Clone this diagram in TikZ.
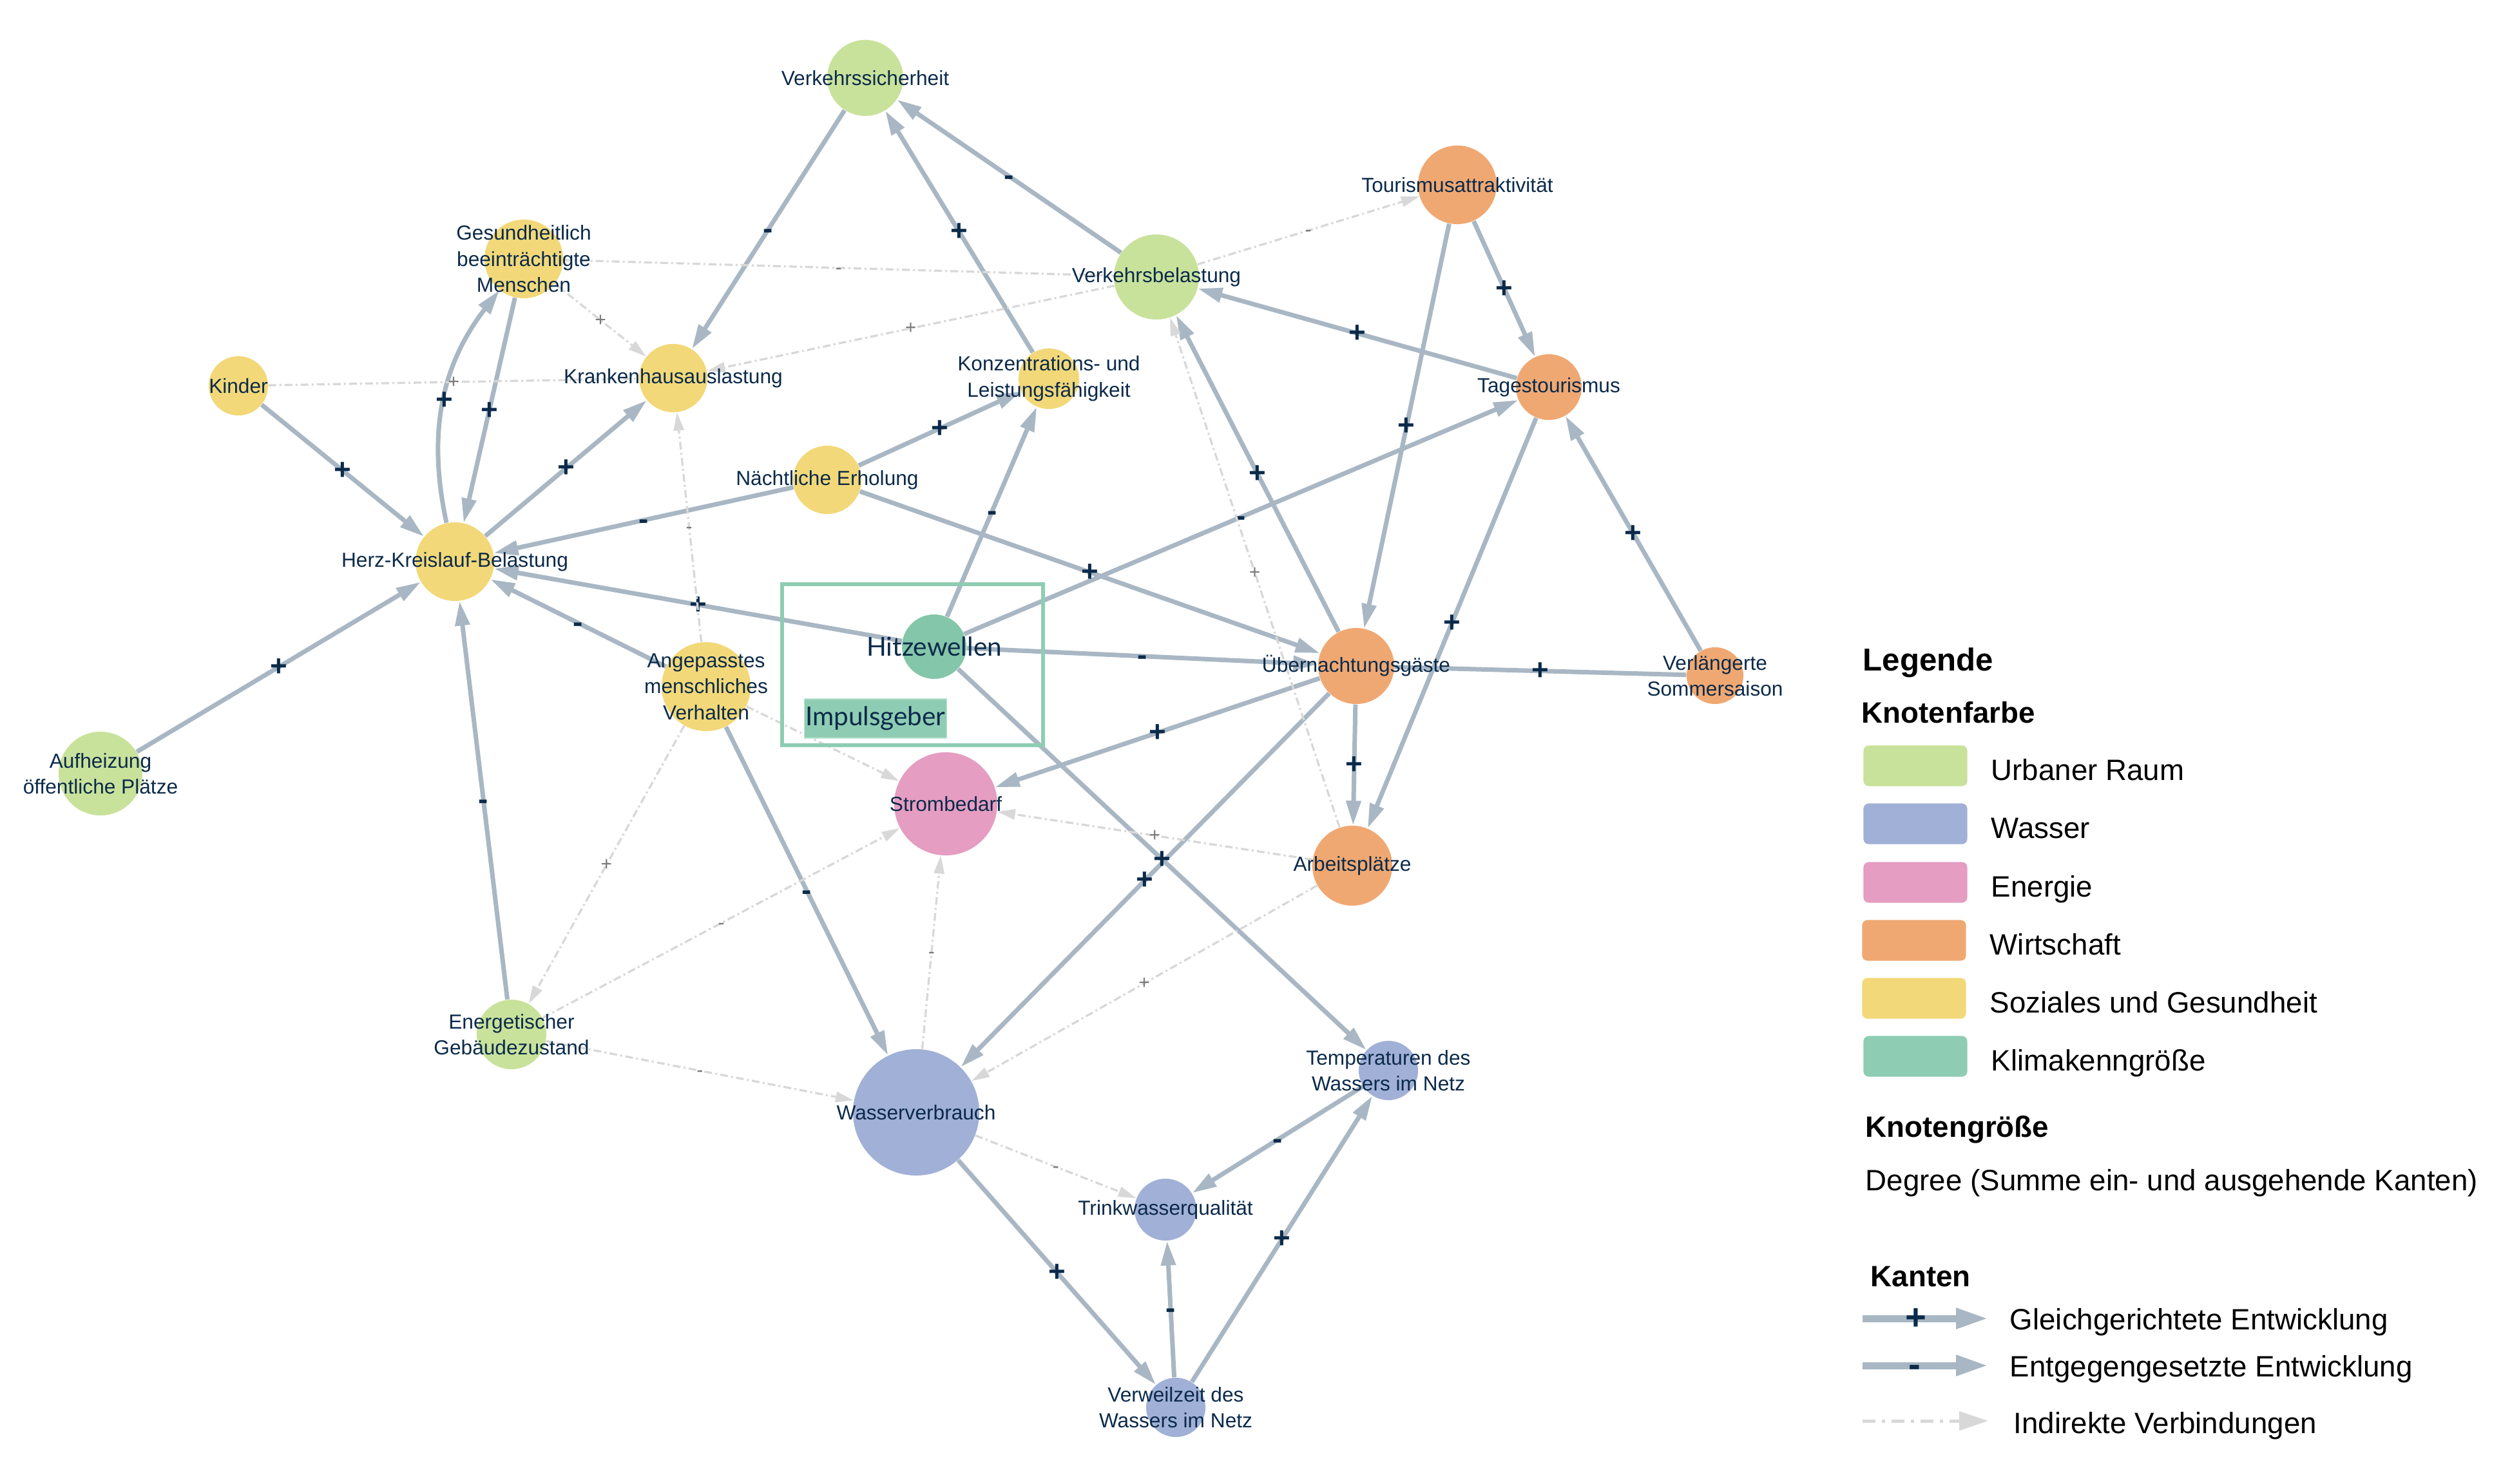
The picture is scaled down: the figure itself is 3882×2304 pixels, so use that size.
\documentclass[tikz,border=0pt]{standalone}
\usepackage{fontspec}
\setmainfont{Liberation Sans}
\newfontfamily\impulsfont{Lato}
\usepackage{tikz}
\usetikzlibrary{arrows.meta}

\definecolor{urban}{HTML}{C9E29B}
\definecolor{wasser}{HTML}{A1B0D6}
\definecolor{energie}{HTML}{E59DC1}
\definecolor{wirtschaft}{HTML}{F0A872}
\definecolor{sozial}{HTML}{F2D878}
\definecolor{klima}{HTML}{84C6A9}
\definecolor{klimabox}{HTML}{8ECDB3}
\definecolor{edgegray}{HTML}{A8B7C3}
\definecolor{indgray}{HTML}{D8D8D8}
\definecolor{navy}{HTML}{0B2A4A}
\definecolor{signgray}{HTML}{7A7A7A}

\pgfdeclarelayer{edges}
\pgfsetlayers{edges,main}

\begin{document}
\begin{tikzpicture}[x=0.01cm, y=-0.01cm]

    %--- Styles
    \tikzstyle{var node}=[circle, inner sep=0pt, draw=none]
    \tikzstyle{label text}=[font=\fontsize{9}{11.5}\selectfont, text=navy, align=center]
    \tikzstyle{direct edge}=[draw=edgegray, line width=0.07cm, -{Triangle[length=0.38cm,width=0.22cm]}]
    \tikzstyle{indirect edge}=[draw=indgray, line width=0.033cm, dash pattern=on 0.12cm off 0.05cm on 0.03cm off 0.05cm, -{Triangle[length=0.28cm,width=0.16cm]}]
    \tikzstyle{sign label}=[font=\fontsize{13}{13}\selectfont\bfseries, text=navy, inner sep=0pt, anchor=base, yshift=-4pt]
    \tikzstyle{weak sign}=[font=\fontsize{8.5}{8.5}\selectfont, text=signgray, inner sep=0pt, anchor=base, yshift=-2.6pt]
    \tikzstyle{swatch}=[rectangle, rounded corners=0.08cm, minimum width=1.61cm, minimum height=0.63cm, inner sep=0pt]
    \tikzstyle{legend text}=[anchor=base west, font=\fontsize{13}{13}\selectfont, inner sep=0pt]
    \tikzstyle{legend head}=[anchor=base west, font=\fontsize{13}{13}\selectfont\bfseries, inner sep=0pt]

    \useasboundingbox (0,0) rectangle (3882,2304);

    %--- Urbaner Raum
    \node[var node, fill=urban, minimum size=1.18cm, label={[label text]center:Verkehrssicherheit}] (vsich) at (1343,121) {};
    \node[var node, fill=urban, minimum size=1.32cm, label={[label text]center:Verkehrsbelastung}] (vbel) at (1795,430) {};
    \node[var node, fill=urban, minimum size=1.30cm, label={[label text]center:{Aufheizung\\öffentliche Plätze}}] (aufh) at (156,1201) {};
    \node[var node, fill=urban, minimum size=1.08cm, label={[label text]center:{Energetischer\\Gebäudezustand}}] (energ) at (794,1606) {};

    %--- Wirtschaft
    \node[var node, fill=wirtschaft, minimum size=1.22cm, label={[label text]center:Tourismusattraktivität}] (tour) at (2262,287) {};
    \node[var node, fill=wirtschaft, minimum size=1.02cm, label={[label text]center:Tagestourismus}] (tages) at (2404,601) {};
    \node[var node, fill=wirtschaft, minimum size=1.18cm, label={[label text]center:Übernachtungsgäste}] (uebern) at (2105,1034) {};
    \node[var node, fill=wirtschaft, minimum size=1.24cm, label={[label text]center:Arbeitsplätze}] (arbeit) at (2099,1344) {};
    \node[var node, fill=wirtschaft, minimum size=0.88cm, label={[label text]center:{Verlängerte\\Sommersaison}}] (saison) at (2662,1049) {};

    %--- Soziales und Gesundheit
    \node[var node, fill=sozial, minimum size=0.94cm, label={[label text]center:{Konzentrations- und\\Leistungsfähigkeit}}] (konz) at (1628,588) {};
    \node[var node, fill=sozial, minimum size=1.06cm, label={[label text]center:Nächtliche Erholung}] (erhol) at (1284,745) {};
    \node[var node, fill=sozial, minimum size=1.22cm, label={[label text]center:Herz-Kreislauf-Belastung}] (herz) at (706,872) {};
    \node[var node, fill=sozial, minimum size=0.92cm, label={[label text]center:Kinder}] (kinder) at (370,599) {};
    \node[var node, fill=sozial, minimum size=1.22cm, label={[label text]center:{Gesundheitlich\\beeinträchtigte\\Menschen}}] (gesund) at (813,402) {};
    \node[var node, fill=sozial, minimum size=1.06cm, label={[label text]center:Krankenhausauslastung}] (kranken) at (1045,587) {};
    \node[var node, fill=sozial, minimum size=1.38cm, label={[label text]center:{Angepasstes\\menschliches\\Verhalten}}] (verhalt) at (1096,1066) {};

    %--- Energie
    \node[var node, fill=energie, minimum size=1.60cm, label={[label text]center:Strombedarf}] (strom) at (1468,1248) {};

    %--- Wasser
    \node[var node, fill=wasser, minimum size=0.92cm, label={[label text]center:{Temperaturen des\\Wassers im Netz}}] (wtemp) at (2155,1662) {};
    \node[var node, fill=wasser, minimum size=1.96cm, label={[label text]center:Wasserverbrauch}] (wverb) at (1422,1727) {};
    \node[var node, fill=wasser, minimum size=0.96cm, label={[label text]center:Trinkwasserqualität}] (trink) at (1809,1878) {};
    \node[var node, fill=wasser, minimum size=0.92cm, label={[label text]center:{Verweilzeit des\\Wassers im Netz}}] (verweil) at (1825,2185) {};

    %--- Klimakenngroesse (Impulsgeber)
    \node[var node, fill=klima, minimum size=1.00cm, label={[label text, font=\impulsfont\fontsize{11.5}{12}\selectfont]center:Hitzewellen}] (hitze) at (1450,1004) {};
    \draw[klimabox, line width=0.06cm] (1214,907) rectangle (1619,1157);
    \node[fill=klimabox, draw=klimabox!55!white, line width=0.4pt, inner xsep=0.5pt, minimum height=0.49cm, text=navy, font=\impulsfont\fontsize{11.5}{12}\selectfont] (impuls) at (1359,1115.5) {Impulsgeber};

    \begin{pgfonlayer}{edges}
    %--- Direct edges
    \draw[direct edge] (vsich) -- node[sign label] {-} (kranken);
    \draw[direct edge] (konz) -- node[sign label] {+} (vsich);
    \draw[direct edge] (vbel) -- node[sign label] {-} (vsich);
    \draw[direct edge] (tages) -- node[sign label] {+} (vbel);
    \draw[direct edge] (tour) -- node[sign label] {+} (tages);
    \draw[direct edge] (tour) -- node[sign label] {+} (uebern);
    \draw[direct edge] (uebern) -- node[sign label] {+} (vbel);
    \draw[direct edge] (hitze) -- node[sign label] {-} (tages);
    \draw[direct edge] (erhol) -- node[sign label] {+} (uebern);
    \draw[direct edge] (tages) -- node[sign label] {+} (arbeit);
    \draw[direct edge] (saison) -- node[sign label] {+} (tages);
    \draw[direct edge, -] (saison) -- node[sign label] {+} (uebern);
    \draw[direct edge] (uebern) -- node[sign label] {+} (strom);
    \draw[direct edge] (uebern) -- node[sign label] {+} (wverb);
    \draw[direct edge] (hitze) -- node[sign label] {+} (wtemp);
    \draw[direct edge] (uebern) -- node[sign label] {+} (arbeit);
    \draw[direct edge] (hitze) -- node[sign label] {+} (herz);
    \draw[direct edge] (hitze) -- node[sign label] {-} (konz);
    \draw[direct edge] (hitze) -- node[sign label] {-} (uebern);
    \draw[direct edge] (erhol) -- node[sign label] {-} (herz);
    \draw[direct edge] (erhol) -- node[sign label] {+} (konz);
    \draw[direct edge] (herz) -- node[sign label] {+} (kranken);
    \draw[direct edge] (herz) to[bend left=25] node[sign label] {+} (gesund);
    \draw[direct edge] (gesund) -- node[sign label] {+} (herz);
    \draw[direct edge] (kinder) -- node[sign label] {+} (herz);
    \draw[direct edge] (aufh) -- node[sign label] {+} (herz);
    \draw[direct edge] (energ) -- node[sign label] {-} (herz);
    \draw[direct edge] (verhalt) -- node[sign label] {-} (herz);
    \draw[direct edge] (verhalt) -- node[sign label] {-} (wverb);
    \draw[direct edge] (wverb) -- node[sign label] {+} (verweil);
    \draw[direct edge] (verweil) -- node[sign label] {-} (trink);
    \draw[direct edge] (verweil) -- node[sign label] {+} (wtemp);
    \draw[direct edge] (wtemp) -- node[sign label] {-} (trink);

    %--- Indirect edges
    \draw[indirect edge, -] (gesund) -- node[weak sign] {-} (vbel);
    \draw[indirect edge] (gesund) -- node[weak sign] {+} (kranken);
    \draw[indirect edge, -] (kinder) -- node[weak sign] {+} (kranken);
    \draw[indirect edge] (vbel) -- node[weak sign] {+} (kranken);
    \draw[indirect edge] (verhalt) -- node[weak sign] {-} (kranken);
    \draw[indirect edge] (vbel) -- node[weak sign] {-} (tour);
    \draw[indirect edge] (arbeit) -- node[weak sign] {+} (vbel);
    \draw[indirect edge] (verhalt) -- (strom);
    \draw[indirect edge] (energ) -- node[weak sign] {-} (strom);
    \draw[indirect edge] (verhalt) -- node[weak sign] {+} (energ);
    \draw[indirect edge] (energ) -- node[weak sign] {-} (wverb);
    \draw[indirect edge] (wverb) -- node[weak sign] {-} (strom);
    \draw[indirect edge] (arbeit) -- node[weak sign] {+} (strom);
    \draw[indirect edge] (arbeit) -- node[weak sign] {+} (wverb);
    \draw[indirect edge] (wverb) -- node[weak sign] {-} (trink);
    \end{pgfonlayer}

    %--- Legende
    \node[legend head, font=\fontsize{14}{14}\selectfont\bfseries] (leghead) at (2891,1041) {Legende};
    \node[legend head] (legfarbe) at (2889,1122) {Knotenfarbe};

    \node[swatch, fill=urban] (sw1) at (2973,1189) {};
    \node[swatch, fill=wasser] (sw2) at (2973,1279) {};
    \node[swatch, fill=energie] (sw3) at (2973,1370) {};
    \node[swatch, fill=wirtschaft] (sw4) at (2971,1460) {};
    \node[swatch, fill=sozial] (sw5) at (2971,1550) {};
    \node[swatch, fill=klimabox] (sw6) at (2973,1640) {};

    \node[legend text] (lt1) at (3090,1211) {Urbaner Raum};
    \node[legend text] (lt2) at (3090,1301) {Wasser};
    \node[legend text] (lt3) at (3090,1392) {Energie};
    \node[legend text] (lt4) at (3088,1482) {Wirtschaft};
    \node[legend text] (lt5) at (3088,1572) {Soziales und Gesundheit};
    \node[legend text] (lt6) at (3090,1662) {Klimakenngröße};

    \node[legend head] (leggroesse) at (2895,1765) {Knotengröße};
    \node[legend text] (legdegree) at (2895,1848) {Degree (Summe ein- und ausgehende Kanten)};

    \node[legend head] (legkanten) at (2903,1997) {Kanten};

    \coordinate (kp0) at (2891,2047);
    \coordinate (kp1) at (3086,2047);
    \coordinate (km0) at (2891,2120);
    \coordinate (km1) at (3086,2120);
    \coordinate (ki0) at (2891,2206);
    \coordinate (ki1) at (3086,2206);
    \draw[edgegray, line width=0.11cm, -{Triangle[length=0.5cm,width=0.3cm]}] (kp0) -- (kp1);
    \draw[edgegray, line width=0.11cm, -{Triangle[length=0.5cm,width=0.3cm]}] (km0) -- (km1);
    \draw[indgray, line width=0.05cm, dash pattern=on 0.2cm off 0.1cm on 0.05cm off 0.1cm, -{Triangle[length=0.45cm,width=0.29cm]}] (ki0) -- (ki1);
    \node[sign label, font=\fontsize{16}{16}\selectfont\bfseries, yshift=-1pt] (kplus) at (2974,2047) {+};
    \node[sign label, font=\fontsize{16}{16}\selectfont\bfseries, yshift=-1pt] (kminus) at (2972,2120) {-};

    \node[legend text] (lk1) at (3119,2064) {Gleichgerichtete Entwicklung};
    \node[legend text] (lk2) at (3119,2137) {Entgegengesetzte Entwicklung};
    \node[legend text] (lk3) at (3125,2225) {Indirekte Verbindungen};

\end{tikzpicture}
\end{document}
